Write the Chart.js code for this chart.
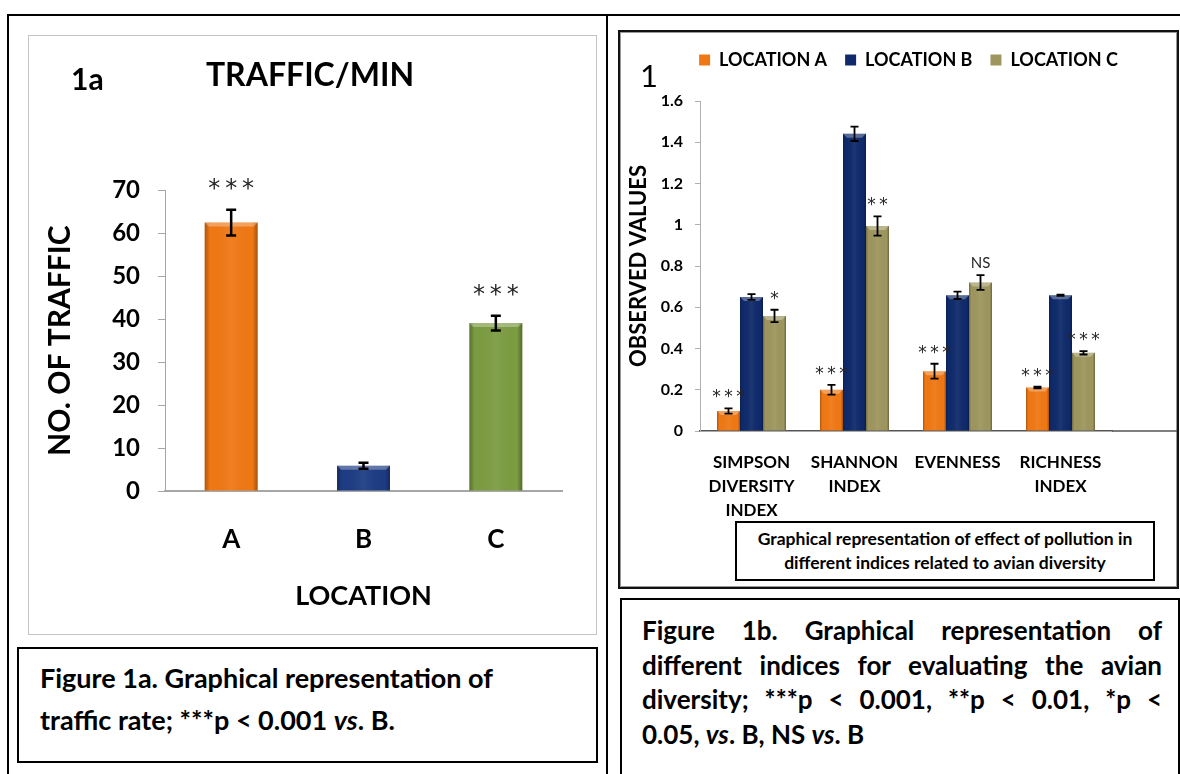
<!DOCTYPE html>
<html>
<head>
<meta charset="utf-8">
<script src="https://cdn.jsdelivr.net/npm/chart.js@4.4.1/dist/chart.umd.min.js"></script>
<style>
  body { margin: 0; width: 1180px; height: 774px; overflow: hidden; background: #fff; font-family: Lato, "Open Sans", sans-serif; position: relative; }
  .abs { position: absolute; }
  .line { position: absolute; background: #000; }
  #box1a { left: 28px; top: 35px; width: 567px; height: 598px; border: 1.5px solid #c4c4c4; }
  #box1b { left: 618px; top: 30px; width: 557px; height: 555px; border: 2px solid #111; box-shadow: inset 0 0 0 1px #999; }
  .cap { position: absolute; border: 2px solid #000; font-weight: bold; color: #000; box-sizing: border-box; white-space: nowrap; }
  #cap1a { left: 17px; top: 647px; width: 581px; height: 116px; font-size: 27px; line-height: 42px; padding: 8px 0 0 21px; }
  #cap1b { left: 620px; top: 598px; width: 560px; height: 185px; font-size: 26px; line-height: 34.5px; padding: 13px 16px 0 20px; }
  #cap1b .j { text-align: justify; text-align-last: justify; }
  #inner1b { left: 735px; top: 521px; width: 420px; height: 60px; border: 2px solid #000; box-sizing: border-box; background: #fff;
             font-weight: bold; font-size: 17.5px; line-height: 24px; text-align: center; padding-top: 4px; white-space: nowrap; }
  .tag { position: absolute; font-weight: bold; color: #000; }
</style>
</head>
<body>
<div class="line" style="left:7px;top:14px;width:1173px;height:2px"></div>
<div class="line" style="left:7px;top:14px;width:2px;height:760px"></div>
<div class="line" style="left:606px;top:14px;width:2px;height:760px"></div>

<div id="box1a" class="abs"></div>
<canvas id="chart1a" class="abs" width="567" height="598" style="left:29px;top:36px"></canvas>
<div class="tag" style="left:71px;top:60px;font-size:30px">1a</div>

<div id="box1b" class="abs"></div>
<canvas id="chart1b" class="abs" width="556" height="553" style="left:621px;top:33px"></canvas>
<div class="tag" style="left:640px;top:56px;font-size:31px;font-weight:normal">1</div>
<div id="inner1b" class="abs">Graphical representation of effect of pollution in<br>different indices related to avian diversity</div>

<div id="cap1a" class="cap">Figure 1a. Graphical representation of<br>traffic rate; ***p &lt; 0.001 <i>vs</i>. B.</div>
<div id="cap1b" class="cap">
  <div class="j">Figure 1b. Graphical representation of</div>
  <div class="j">different indices for evaluating the avian</div>
  <div class="j">diversity; ***p &lt; 0.001, **p &lt; 0.01, *p &lt;</div>
  <div>0.05, <i>vs</i>. B, NS <i>vs</i>. B</div>
</div>

<script>
// ---- figure 1a data ----
const locations = ['A', 'B', 'C'];
const trafficMean = [62.5, 5.9, 39.1];
const trafficErr = [3.0, 0.7, 1.7];
const trafficMarks = ['***', '', '***'];

// ---- figure 1b data ----
const indices = [['SIMPSON', 'DIVERSITY', 'INDEX'], ['SHANNON', 'INDEX'], ['EVENNESS'], ['RICHNESS', 'INDEX']];
const seriesNames = ['LOCATION A', 'LOCATION B', 'LOCATION C'];
const locA = [0.097, 0.200, 0.290, 0.211];
const locB = [0.650, 1.441, 0.658, 0.658];
const locC = [0.558, 0.994, 0.720, 0.379];
const errA = [0.013, 0.024, 0.036, 0.004];
const errB = [0.014, 0.035, 0.018, 0.003];
const errC = [0.030, 0.047, 0.036, 0.008];
const marksA = ['***', '***', '***', '***'];
const marksB = ['', '', '', ''];
const marksC = ['*', '**', 'NS', '***'];

const FONT = 'Lato';

// light/dark edge shading so the bars look like the bevelled office bars
const bevel = {
  id: 'bevel',
  afterDatasetsDraw(chart) {
    const ctx = chart.ctx;
    ctx.save();
    chart.data.datasets.forEach((ds, i) => {
      chart.getDatasetMeta(i).data.forEach(bar => {
        const p = bar.getProps(['x', 'y', 'base', 'width'], true);
        const l = p.x - p.width / 2, w = p.width, t = p.y, h = p.base - p.y;
        const g = ctx.createLinearGradient(l, 0, l + w, 0);
        g.addColorStop(0, 'rgba(0,0,0,0.28)');
        g.addColorStop(0.1, 'rgba(0,0,0,0)');
        g.addColorStop(0.5, 'rgba(255,255,255,0.06)');
        g.addColorStop(0.9, 'rgba(0,0,0,0)');
        g.addColorStop(1, 'rgba(0,0,0,0.32)');
        ctx.fillStyle = g;
        ctx.fillRect(l, t, w, h);
        const b = Math.min(4, h / 2);
        ctx.fillStyle = 'rgba(255,255,255,0.3)';
        ctx.beginPath();
        ctx.moveTo(l, t); ctx.lineTo(l + w, t); ctx.lineTo(l + w - b, t + b); ctx.lineTo(l + b, t + b);
        ctx.closePath();
        ctx.fill();
      });
    });
    ctx.restore();
  }
};

// I-shaped error bars and the significance marks above them
const errorBars = {
  id: 'errorBars',
  afterDatasetsDraw(chart, args, opts) {
    const ctx = chart.ctx;
    const y = chart.scales.y;
    ctx.save();
    chart.data.datasets.forEach((ds, i) => {
      chart.getDatasetMeta(i).data.forEach((bar, j) => {
        const v = ds.data[j], e = ds.errors[j];
        const x = bar.x;
        const top = y.getPixelForValue(v + e), bot = y.getPixelForValue(v - e);
        ctx.strokeStyle = '#000';
        ctx.lineWidth = opts.width;
        ctx.beginPath();
        ctx.moveTo(x, top); ctx.lineTo(x, bot);
        ctx.moveTo(x - opts.cap, top); ctx.lineTo(x + opts.cap, top);
        ctx.moveTo(x - opts.cap, bot); ctx.lineTo(x + opts.cap, bot);
        ctx.stroke();
        const m = ds.marks[j];
        if (m) {
          ctx.fillStyle = '#262626';
          ctx.textAlign = 'center';
          ctx.textBaseline = 'bottom';
          if (m === 'NS') {
            ctx.font = opts.nsSize + 'px ' + FONT;
            ctx.fillText(m, x, top - opts.gap - 2);
          } else {
            ctx.font = opts.markSize + 'px "DejaVu Sans"';
            ctx.fillText(m.split('').join('\u2009'), x, top - opts.gap);
          }
        }
      });
    });
    ctx.restore();
  }
};

// the category axis line of 1b runs on to the frame
const axisRun = {
  id: 'axisRun',
  afterDraw(chart) {
    const ctx = chart.ctx, a = chart.chartArea;
    ctx.save();
    ctx.strokeStyle = '#555';
    ctx.lineWidth = 1.5;
    ctx.beginPath();
    ctx.moveTo(a.right, a.bottom);
    ctx.lineTo(chart.width, a.bottom);
    ctx.stroke();
    ctx.restore();
  }
};

new Chart(document.getElementById('chart1a'), {
  type: 'bar',
  data: {
    labels: locations,
    datasets: [{
      data: trafficMean,
      errors: trafficErr,
      marks: trafficMarks,
      backgroundColor: ['#F07814', '#1D3C84', '#7C9C42'],
      barPercentage: 0.4,
      categoryPercentage: 1
    }]
  },
  options: {
    responsive: false,
    animation: false,
    layout: { padding: { left: 29, right: 34, top: 0, bottom: 0 } },
    plugins: {
      legend: { display: false },
      tooltip: { enabled: false },
      title: {
        display: true,
        text: 'TRAFFIC/MIN',
        color: '#000',
        font: { family: FONT, size: 32, weight: 'bold' },
        padding: { top: 20, bottom: 96 }
      },
      errorBars: { width: 2.5, cap: 5, gap: 8, markSize: 24, nsSize: 16 }
    },
    scales: {
      x: {
        afterFit: s => { s.height = 143; },
        grid: { display: false, drawTicks: false },
        border: { color: '#a6a6a6', width: 2 },
        ticks: { color: '#000', padding: 33, font: { family: FONT, size: 26, weight: 'bold' } },
        title: {
          display: true, text: 'LOCATION', color: '#000',
          font: { family: FONT, size: 27, weight: 'bold' },
          padding: { top: 22, bottom: 22 }
        }
      },
      y: {
        min: 0, max: 70,
        afterFit: s => { s.width = 107; },
        grid: { drawOnChartArea: false, drawTicks: true, tickLength: 7, color: '#a6a6a6' },
        border: { color: '#a6a6a6', width: 1 },
        ticks: { stepSize: 10, color: '#000', padding: 18, font: { family: FONT, size: 24, weight: 'bold' } },
        title: {
          display: true, text: 'NO. OF TRAFFIC', color: '#000',
          font: { family: FONT, size: 30, weight: 'bold' },
          padding: { top: -16, bottom: -16 }
        }
      }
    }
  },
  plugins: [bevel, errorBars]
});

const legendSpace = {
  id: 'legendSpace',
  beforeInit(chart) {
    const fit = chart.legend.fit;
    chart.legend.fit = function () {
      fit.bind(chart.legend)();
      this.height += 22;
    };
  }
};

new Chart(document.getElementById('chart1b'), {
  type: 'bar',
  data: {
    labels: indices,
    datasets: [
      { label: seriesNames[0], data: locA, errors: errA, marks: marksA, backgroundColor: '#F07814' },
      { label: seriesNames[1], data: locB, errors: errB, marks: marksB, backgroundColor: '#0F2A6B' },
      { label: seriesNames[2], data: locC, errors: errC, marks: marksC, backgroundColor: '#9E965E' }
    ]
  },
  options: {
    responsive: false,
    animation: false,
    datasets: { bar: { categoryPercentage: 0.67, barPercentage: 1 } },
    layout: { padding: { left: 19, right: 0, top: 0, bottom: 0 } },
    plugins: {
      tooltip: { enabled: false },
      legend: {
        labels: {
          color: '#000', boxWidth: 11, boxHeight: 11, padding: 18,
          font: { family: FONT, size: 18, weight: 'bold' }
        }
      },
      errorBars: { width: 1.8, cap: 4, gap: 2, markSize: 17, nsSize: 15 }
    },
    scales: {
      x: {
        afterFit: s => { s.height = 155; },
        grid: { display: false, drawTicks: false },
        border: { color: '#555', width: 1.5 },
        ticks: {
          color: '#000', padding: 20, autoSkip: false, maxRotation: 0,
          font: { family: FONT, size: 17, weight: 'bold', lineHeight: 1.4 }
        }
      },
      y: {
        min: 0, max: 1.6,
        afterFit: s => { s.width = 60; },
        grid: { drawOnChartArea: false, drawTicks: true, tickLength: 5, color: '#b0b0b0' },
        border: { color: '#b0b0b0', width: 1 },
        ticks: {
          stepSize: 0.2, color: '#000', padding: 12,
          font: { family: FONT, size: 16, weight: 'bold' },
          callback: v => String(+v.toFixed(1))
        },
        title: {
          display: true, text: 'OBSERVED VALUES', color: '#000',
          font: { family: FONT, size: 22, weight: 'bold' },
          padding: { top: -14, bottom: -14 }
        }
      },
      // empty space right of the last group, as in the original plot area
      y2: {
        type: 'linear',
        position: 'right',
        afterFit: s => { s.width = 65; },
        grid: { display: false },
        border: { display: false },
        ticks: { display: false }
      }
    }
  },
  plugins: [legendSpace, bevel, errorBars, axisRun]
});
</script>
</body>
</html>
